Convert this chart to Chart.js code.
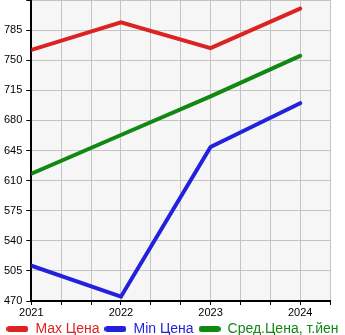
<!DOCTYPE html>
<html>
<head>
<meta charset="utf-8">
<script src="https://cdn.jsdelivr.net/npm/chart.js@4/dist/chart.umd.min.js"></script>
<style>
  html, body { margin: 0; padding: 0; background: #fff; }
  #wrap { width: 345px; height: 335px; }
</style>
</head>
<body>
<div id="wrap"><canvas id="c"></canvas></div>
<script>
// values
var years = [2021, 2022, 2023, 2024];
var maxPrice = [762, 794, 764, 810];
var minPrice = [511, 475, 649, 700];
var avgPrice = [618, 663, 708, 755];
var seriesNames = ['Max Цена', 'Min Цена', 'Сред.Цена, т.йен'];
var seriesColors = ['#dd2222', '#2222dd', '#118811'];

function toPoints(arr) {
  return years.map(function (y, i) {
    return { x: y, y: arr[i] };
  });
}

// small rounded line used as legend marker
function legendMark(color) {
  var c = document.createElement('canvas');
  c.width = 22;
  c.height = 6;
  var g = c.getContext('2d');
  g.strokeStyle = color;
  g.lineWidth = 6;
  g.lineCap = 'round';
  g.beginPath();
  g.moveTo(3, 3);
  g.lineTo(19, 3);
  g.stroke();
  return c;
}

var bgPlugin = {
  id: 'plotBg',
  beforeDraw: function (chart) {
    var a = chart.chartArea;
    var ctx = chart.ctx;
    ctx.save();
    ctx.fillStyle = '#f6f6f6';
    ctx.fillRect(a.left, a.top, a.right - a.left, a.bottom - a.top);
    ctx.restore();
  }
};

var ds = [maxPrice, minPrice, avgPrice].map(function (arr, i) {
  return {
    label: seriesNames[i],
    data: toPoints(arr),
    borderColor: seriesColors[i],
    backgroundColor: seriesColors[i],
    borderWidth: 4,
    borderCapStyle: 'round',
    pointRadius: 0,
    tension: 0,
    fill: false
  };
});

new Chart(document.getElementById('c'), {
  type: 'line',
  data: { datasets: ds },
  plugins: [bgPlugin],
  options: {
    responsive: true,
    maintainAspectRatio: false,
    animation: false,
    layout: { padding: { top: 0, right: 0, left: 0, bottom: -11 } },
    scales: {
      x: {
        type: 'linear',
        min: 2021,
        max: 2024 + 1 / 3,
        afterBuildTicks: function (axis) {
          var t = [];
          for (var i = 0; i <= 10; i++) t.push({ value: 2021 + i / 3 });
          axis.ticks = t;
        },
        afterFit: function (axis) {
          axis.paddingRight = 15;
          axis.height = 16;
        },
        ticks: {
          color: '#000',
          padding: 1,
          font: { size: 11, family: 'Liberation Sans' },
          autoSkip: false,
          maxRotation: 0,
          callback: function (v) {
            var r = Math.round(v);
            return Math.abs(v - r) < 0.01 ? String(r) : '';
          }
        },
        grid: { color: '#c4c4c4', tickColor: '#000', tickLength: 4 },
        border: { color: '#000', width: 2 }
      },
      y: {
        min: 470,
        max: 820,
        afterFit: function (axis) {
          axis.paddingTop = 0;
          axis.paddingBottom = 0;
        },
        ticks: {
          stepSize: 35,
          color: '#000',
          padding: 4,
          font: { size: 11, family: 'Liberation Sans' },
          callback: function (v) { return v >= 820 ? '' : v; }
        },
        grid: { color: '#c4c4c4', tickColor: '#000', tickLength: 5 },
        border: { color: '#000', width: 2 }
      }
    },
    plugins: {
      legend: {
        position: 'bottom',
        labels: {
          usePointStyle: true,
          pointStyleWidth: 22,
          padding: 5,
          font: { size: 14, family: 'Liberation Sans' },
          generateLabels: function (chart) {
            return chart.data.datasets.map(function (d, i) {
              return {
                text: d.label,
                fillStyle: d.borderColor,
                strokeStyle: d.borderColor,
                fontColor: d.borderColor,
                lineWidth: 0,
                pointStyle: legendMark(d.borderColor),
                hidden: false,
                datasetIndex: i
              };
            });
          }
        }
      },
      tooltip: { enabled: false }
    }
  }
});
</script>
</body>
</html>
